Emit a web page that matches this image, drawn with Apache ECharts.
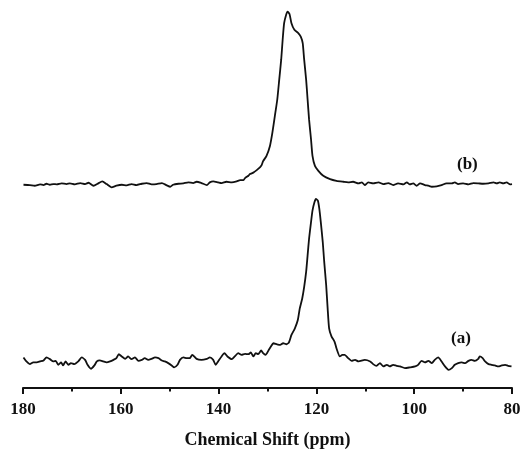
<!DOCTYPE html>
<html>
<head>
<meta charset="utf-8">
<script src="https://cdn.jsdelivr.net/npm/echarts@6/dist/echarts.min.js"></script>
<style>
  html, body { margin: 0; padding: 0; background: #fff; }
  #chart { width: 524px; height: 454px; }
</style>
</head>
<body>
<div id="chart"></div>
<script>
// 13C NMR spectra: chemical shift (ppm) vs. intensity (arbitrary units, traces offset vertically)
const xTicks = [180, 160, 140, 120, 100, 80];

// Spectrum (b), upper trace
const bPpm = [179.9,178.6,177.6,176.5,175.8,175.2,174.5,173.8,173.1,172.1,
  171.1,170.4,169.4,168.3,167.3,166.6,165.6,164.6,163.8,162.9,
  161.9,160.9,159.8,158.8,157.8,156.8,155.7,154.7,153.7,152.7,
  151.6,150.6,149.9,149.3,148.2,147.2,146.2,145.2,144.5,143.5,
  142.4,141.8,141.1,140.1,139.4,138.4,137.3,136.3,135.6,134.9,
  134.6,133.9,
  133.6,132.9,132.2,131.5,131.2,130.9,130.2,129.5,129.0,128.5,
  128.0,127.6,127.2,126.9,126.6,126.2,125.9,125.5,125.1,124.5,
  123.8,123.2,122.8,122.5,122.1,121.8,121.5,121.1,120.8,120.3,
  119.6,118.6,117.2,115.9,114.5,113.5,
  112.5,111.4,110.7,110.1,109.4,108.4,107.3,106.3,105.3,104.3,
  103.3,102.2,101.5,100.9,100.2,99.5,98.8,97.8,97.1,96.4,
  95.4,94.4,93.4,92.3,91.7,91.0,90.0,88.9,87.9,86.9,
  85.9,84.8,83.8,83.1,82.5,81.8,81.1,80.4,80.0];
const bIntensity = [204.3,204,203.3,204.7,204,205.3,204.3,205,204.7,205.7,
  205,205.7,204.7,206,205,206.3,203.3,205.7,207.7,205,
  201.7,203.3,204.3,203.7,205,204,205.3,206,204.7,205,
  206,203.7,202.3,204.3,205.3,205.7,206.7,206,207.3,206,
  204,206.7,207.7,206.7,206,207.3,206.7,207.7,209,209,
  211,213.3,
  215,216.5,219,222,224,228,233.3,243.3,256.7,273.3,
  290,310,330,350,366.7,375,378.3,376,366.7,360,
  357.3,353.3,346.7,330,310,290,270,250,233.3,223.3,
  218.3,213.3,210,208.3,207.3,206.7,
  207.3,205.7,206.7,204,206.7,205.7,206.7,205,206,204,
  205.7,204.7,206.7,204.7,205.7,203.3,205.7,204,203.3,202.3,
  202.7,204,205.7,205.7,206.7,205,205.7,204.7,206,205.7,
  205.3,205.7,206.7,205.7,206.7,205.7,206.7,204.7,205];

// Spectrum (a), lower trace
const aPpm = [179.9,179.3,178.6,177.9,177.2,176.5,175.8,175.2,174.5,173.8,
  173.3,172.8,172.2,171.8,171.3,170.7,170.2,169.5,168.7,168.0,
  167.3,166.8,166.1,165.4,164.9,164.3,163.6,162.9,162.2,161.5,
  160.9,160.4,159.8,159.1,158.5,157.8,157.1,156.4,155.7,155.1,
  154.4,153.7,153.0,152.3,151.6,151.0,150.3,149.6,149.1,148.4,
  147.9,147.2,146.5,145.9,
  145.4,144.5,143.5,142.4,141.8,141.1,140.6,140.1,139.4,138.8,
  138.2,137.3,136.7,136.0,135.3,134.6,133.9,133.4,132.9,132.4,
  131.9,131.3,130.9,130.4,129.8,129.3,128.8,128.1,127.4,126.8,
  126.1,125.6,125.1,124.4,123.8,123.4,122.9,122.5,122.1,121.8,
  121.5,121.1,120.8,120.4,120.1,119.7,119.4,119.1,118.7,118.4,
  118.0,117.7,117.4,116.9,116.3,115.9,115.2,114.7,114.2,113.5,
  112.8,112.1,111.4,
  110.1,109.0,108.4,107.7,107.0,106.3,105.6,105.0,104.3,
  103.6,102.9,101.9,100.9,99.8,99.2,98.5,97.8,97.1,96.4,
  95.8,95.1,94.4,93.7,93.0,92.3,91.7,91.0,90.3,89.6,
  88.9,88.3,87.6,86.9,86.6,86.0,85.5,84.8,84.2,83.5,
  82.8,82.1,81.4,80.8,80.1];
const aIntensity = [30.7,26.7,24,25.7,25.7,26.7,27.7,30.7,29,26.7,
  27.3,23.3,25.7,22.7,26.7,23.3,25,24,26.7,30.7,
  28.3,23.3,19.3,22.7,26.7,27.7,26.7,25.7,26.7,28.3,
  30,34,31.7,29.3,31.7,29,30.7,27.3,28.3,30,
  28.3,29.3,30.7,30,27.7,26.7,25,22.7,20.7,23.3,
  28.3,30.7,30,30,
  33.3,29.3,28.3,29.3,30.7,28.3,23.3,26.7,31.7,35,
  31.7,29,31.7,35,33.3,34.3,34,35.7,31.7,35,
  34,37.7,35,33.3,37.7,41.7,45,44,43.3,45,
  44,46,53.3,60,68.3,80,90,101.7,116.7,133.3,
  150,166.7,178.3,186.7,190,188.3,180,166.7,146.7,126.7,
  103.3,80,60,51.7,46.7,40,31.7,33.3,33.3,30,
  27.3,28.3,26.7,
  28.3,26.7,24,22.3,25,21.7,23.3,21.7,23.3,
  22.3,21.7,20,20.7,21.7,23.3,27.3,25.7,27.3,25,
  28.3,30.7,26.7,21.7,18.3,20,23.3,25,25.7,25,
  27.3,28.3,27.3,29.3,31.7,30,26.7,24,23.3,22.7,
  21.7,22.7,23.3,22.3,21.7];

const traceLabels = ['(a)', '(b)'];
const axisTitle = 'Chemical Shift (ppm)';

const serif = '"Liberation Serif", "Times New Roman", serif';
const zip = (xs, ys) => xs.map((x, i) => [x, ys[i]]);

const chart = echarts.init(document.getElementById('chart'), null, { renderer: 'canvas' });

const traceStyle = { color: '#111', width: 1.8 };

chart.setOption({
  animation: false,
  backgroundColor: '#fff',
  grid: { left: 23, right: 12, top: 0, bottom: 64 },
  xAxis: {
    type: 'value',
    inverse: true,
    min: xTicks[xTicks.length - 1],
    max: xTicks[0],
    interval: 20,
    name: axisTitle,
    nameLocation: 'middle',
    nameGap: 43,
    nameTextStyle: { fontFamily: serif, fontSize: 18, fontWeight: 'bold', color: '#111' },
    axisLine: { show: true, lineStyle: { color: '#111', width: 2 } },
    axisTick: { show: true, length: 6, lineStyle: { color: '#111', width: 2 } },
    minorTick: { show: true, splitNumber: 2, length: 3.5, lineStyle: { color: '#111', width: 2 } },
    axisLabel: { margin: 13, fontFamily: serif, fontSize: 17, fontWeight: 'bold', color: '#111' },
    splitLine: { show: false },
    minorSplitLine: { show: false }
  },
  yAxis: {
    type: 'value',
    min: 0,
    max: 390,
    show: false
  },
  series: [
    {
      name: traceLabels[0],
      type: 'line',
      data: zip(aPpm, aIntensity),
      showSymbol: false,
      smooth: 0.2,
      lineStyle: traceStyle
    },
    {
      name: traceLabels[1],
      type: 'line',
      data: zip(bPpm, bIntensity),
      showSymbol: false,
      smooth: 0.2,
      lineStyle: traceStyle
    }
  ],
  graphic: [
    {
      type: 'text', left: 451, top: 330,
      style: { text: traceLabels[0], font: 'bold 17px ' + serif, fill: '#111' }
    },
    {
      type: 'text', left: 457, top: 156,
      style: { text: traceLabels[1], font: 'bold 17px ' + serif, fill: '#111' }
    }
  ]
});
</script>
</body>
</html>
